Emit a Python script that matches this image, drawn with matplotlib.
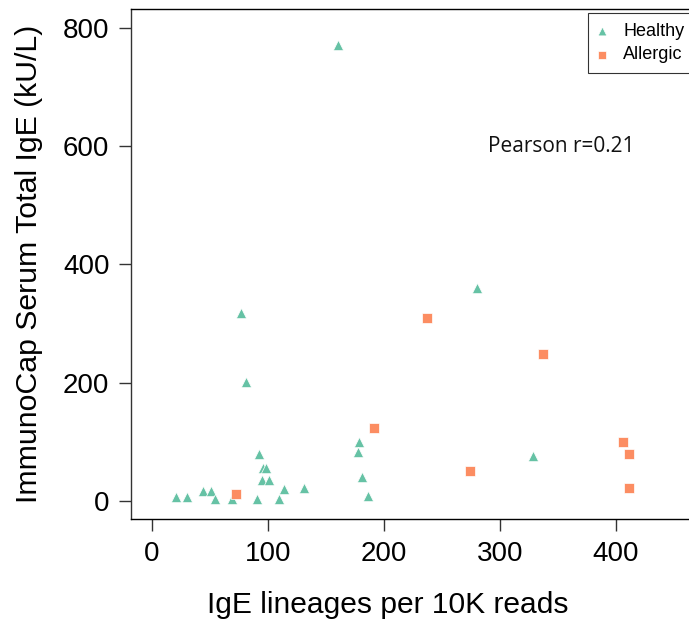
import numpy as np
import matplotlib.pyplot as plt

# Healthy donors
healthy_x = [160.6, 280.7, 76.7, 81.3, 329, 21.3, 30.7, 44, 51, 55, 69,
             92.8, 96, 98.5, 94.8, 101.4, 90.5, 114, 109.7, 131.6,
             178.4, 177.8, 181, 186.5]
healthy_y = [771, 360, 317, 201, 75.6, 6.8, 6.8, 16.4, 16.4, 3.4, 3.4,
             80, 55, 55, 35, 35, 3.4, 20, 3.4, 21.5,
             100, 83, 39.6, 8]

# Allergic donors
allergic_x = [73, 192, 237.6, 274.7, 337.6, 406, 411, 411.7]
allergic_y = [11, 122.5, 308.6, 51, 249, 99, 78.5, 21]

x_ticks = [0, 100, 200, 300, 400]
y_ticks = [0, 200, 400, 600, 800]

green = '#66c2a5'
orange = '#fc8d62'

plt.rcParams['font.family'] = ['Liberation Sans', 'DejaVu Sans']

fig = plt.figure(figsize=(6.89, 6.24), dpi=100)
ax = fig.add_axes([0.190, 0.168, 0.81, 0.8176])

ax.scatter(healthy_x, healthy_y, marker='^', s=55, color=green,
           edgecolors='white', linewidths=0.5, label='Healthy', zorder=3)
ax.scatter(allergic_x, allergic_y, marker='s', s=42, color=orange,
           edgecolors='white', linewidths=0.5, label='Allergic', zorder=3)

ax.set_xlim(-17.8, 463)
ax.set_ylim(-31, 832)
ax.set_xticks(x_ticks)
ax.set_yticks(y_ticks)
ax.tick_params(axis='both', direction='out', length=8.5, width=1,
               labelsize=20, pad=7, color='#333333')
ax.spines['right'].set_visible(False)
for s in ['left', 'bottom', 'top']:
    ax.spines[s].set_linewidth(1)
ax.spines['left'].set_color('#333333')

ax.set_xlabel('IgE lineages per 10K reads', fontsize=21.6)
ax.set_ylabel('ImmunoCap Serum Total IgE (kU/L)', fontsize=21.8)
ax.xaxis.set_label_coords(0.46, -0.14)
ax.yaxis.set_label_coords(-0.157, 0.5)

ax.text(353, 599, 'Pearson r=0.21', fontsize=15, ha='center', va='center',
        family=['Open Sans', 'DejaVu Sans'], color='#111111')

leg = ax.legend(loc='upper left', fontsize=13, frameon=True, fancybox=False,
                handletextpad=0.9, borderpad=0.55, handlelength=0.5,
                labelspacing=0.35, markerscale=0.85, borderaxespad=0,
                bbox_to_anchor=(0.819, 0.992))
leg.get_frame().set_edgecolor('black')
leg.get_frame().set_linewidth(0.8)

fig.savefig('out.png', dpi=100)
